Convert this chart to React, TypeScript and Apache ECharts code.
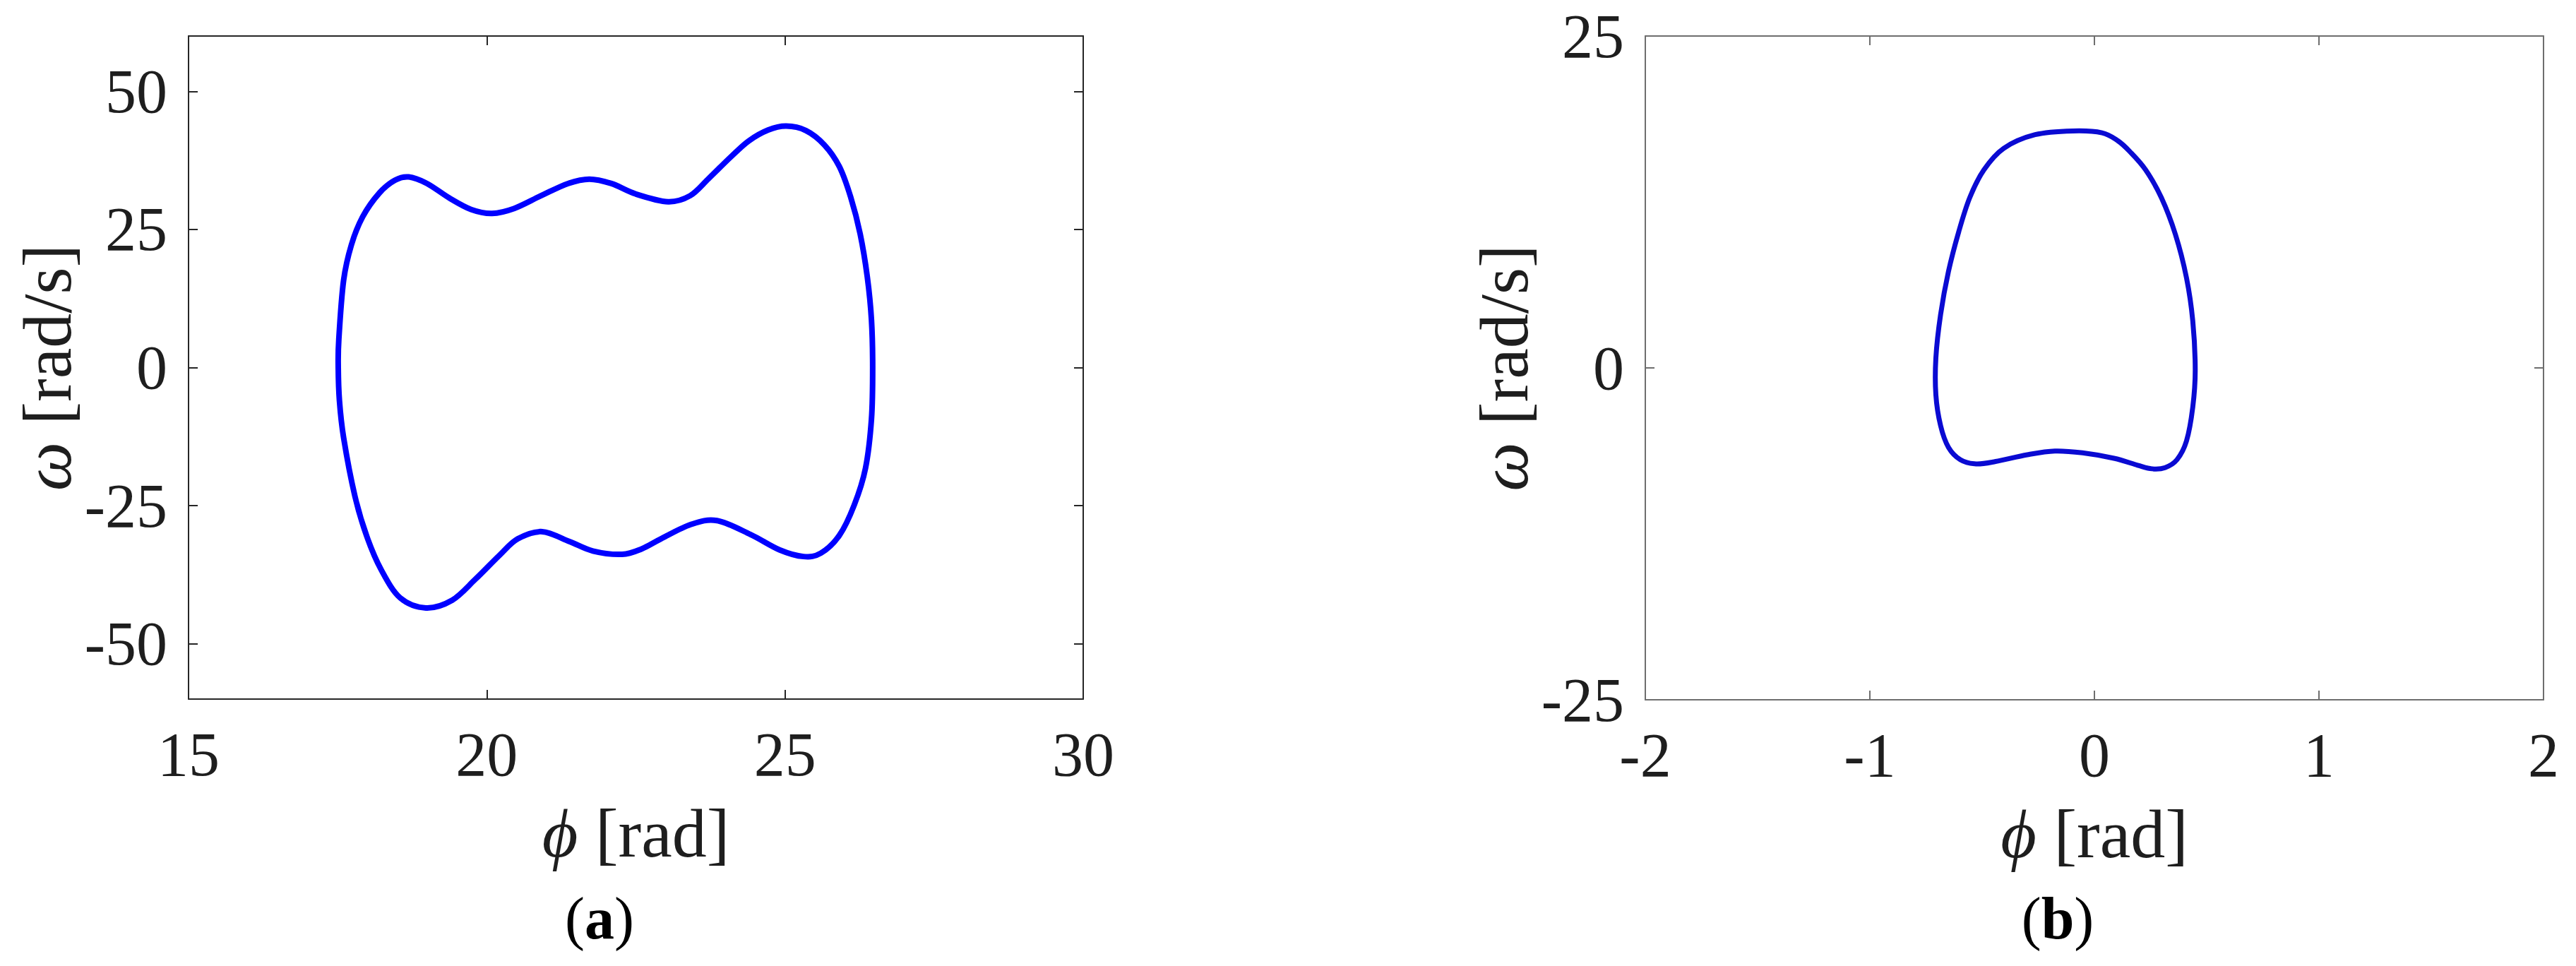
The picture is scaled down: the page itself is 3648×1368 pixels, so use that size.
import React, { useEffect, useRef } from "react";
import * as echarts from "echarts";

// ---- Data: panel (a) phase trajectory (closed loop) ----
const phiA = [
  17.51, 17.52, 17.6, 17.73, 17.92, 18.2, 18.46, 18.69, 19.0, 19.37, 19.74, 20.09,
  20.46, 20.91, 21.36, 21.72, 22.09, 22.5, 23.04, 23.41, 23.72, 24.08, 24.39, 24.72,
  25.02, 25.35, 25.66, 25.91, 26.1, 26.26, 26.38, 26.45, 26.47, 26.45, 26.35, 26.16,
  25.91, 25.6, 25.31, 24.91, 24.42, 23.86, 23.42, 22.92, 22.6, 22.27, 21.78, 21.39,
  20.93, 20.52, 20.21, 19.81, 19.42, 18.98, 18.55, 18.23, 17.99, 17.79, 17.6, 17.53,
  17.51,
];
const omegaA = [
  0, 5.2, 15.8, 22.2, 27.3, 31.6, 33.9, 34.5, 33.3, 30.7, 28.6, 27.9,
  28.8, 31.1, 33.3, 34.1, 33.3, 31.4, 30.0, 31.1, 34.2, 38.0, 41.0, 43.0,
  43.7, 42.9, 40.3, 36.4, 30.9, 24.2, 16.4, 8.6, 0, -9.3, -18.2, -24.9,
  -30.4, -33.6, -34.2, -33.0, -30.2, -27.7, -28.4, -31.0, -32.8, -33.8, -33.2, -31.5,
  -29.7, -31.0, -34.0, -38.3, -42.1, -43.5, -41.7, -36.6, -30.6, -23.3, -12.7, -6.0,
  0,
];

// ---- Data: panel (b) phase trajectory (closed loop) ----
const phiB = [
  -0.096, -0.264, -0.404, -0.492, -0.555, -0.604, -0.65, -0.685, -0.706, -0.706,
  -0.685, -0.65, -0.597, -0.527, -0.44, -0.299, -0.176, -0.053, 0.087, 0.192,
  0.256, 0.315, 0.368, 0.41, 0.438, 0.449, 0.438, 0.41, 0.361, 0.298,
  0.228, 0.157, 0.105, 0.034, -0.096,
];
const omegaB = [
  17.85, 17.57, 16.54, 14.92, 12.83, 10.27, 7.26, 4.01, 0.75, -2.03,
  -4.35, -5.98, -6.91, -7.23, -7.05, -6.54, -6.26, -6.4, -6.81, -7.33,
  -7.6, -7.51, -6.91, -5.51, -2.96, -0.17, 3.54, 6.79, 10.04, 12.83,
  14.92, 16.31, 17.1, 17.71, 17.85,
];

// ---- Axis ticks ----
const xTicksA = [15, 20, 25, 30];
const yTicksA = [-50, -25, 0, 25, 50];
const xTicksB = [-2, -1, 0, 1, 2];
const yTicksB = [-25, 0, 25];

const FONT = "'Liberation Serif', 'Times New Roman', serif";
const TEXT = "#1e1e1e";

function makeX(grid: number, min: number, max: number, ticks: number[], color: string) {
  const common = {
    gridIndex: grid,
    type: "value",
    min,
    max,
    interval: ticks[1] - ticks[0],
    splitLine: { show: false },
    axisLine: { show: true, onZero: false, lineStyle: { color, width: 2 } },
    axisTick: { show: true, inside: true, length: 13, lineStyle: { color, width: 2 } },
  };
  return [
    {
      ...common,
      position: "bottom",
      axisLabel: { show: true, fontFamily: FONT, fontSize: 88, color: TEXT, margin: 34 },
      name: "{i|ϕ} [rad]",
      nameLocation: "middle",
      nameGap: 141,
      nameTextStyle: {
        fontFamily: FONT,
        fontSize: 98,
        color: TEXT,
        rich: { i: { fontFamily: FONT, fontSize: 98, fontStyle: "italic", color: TEXT } },
      },
    },
    { ...common, position: "top", axisLabel: { show: false } },
  ];
}

function makeY(grid: number, min: number, max: number, ticks: number[], color: string) {
  const common = {
    gridIndex: grid,
    type: "value",
    min,
    max,
    splitLine: { show: false },
    axisLine: { show: true, onZero: false, lineStyle: { color, width: 2 } },
    axisTick: { show: true, inside: true, length: 13, customValues: ticks, lineStyle: { color, width: 2 } },
  };
  return [
    {
      ...common,
      position: "left",
      axisLabel: { show: true, customValues: ticks, fontFamily: FONT, fontSize: 88, color: TEXT, margin: 30 },
      name: "{i|ω} [rad/s]",
      nameLocation: "middle",
      nameRotate: 90,
      nameGap: 151,
      nameTextStyle: {
        fontFamily: FONT,
        fontSize: 98,
        color: TEXT,
        rich: { i: { fontFamily: FONT, fontSize: 98, fontStyle: "italic", color: TEXT } },
      },
    },
    { ...common, position: "right", axisLabel: { show: false } },
  ];
}

function panelLabel(letter: string, x: number) {
  return {
    type: "text",
    x,
    y: 1300,
    style: {
      text: `({b|${letter}})`,
      font: `84px ${FONT}`,
      fill: "#000",
      textAlign: "center",
      textVerticalAlign: "middle",
      rich: { b: { fontFamily: FONT, fontSize: 84, fontWeight: "bold", fill: "#000" } },
    },
  };
}

// Closed trajectory drawn through the axis scales (api.coord) as a smooth loop
function loopSeries(xs: number[], ys: number[], axisIdx: number, color: string, width: number) {
  return {
    type: "custom",
    coordinateSystem: "cartesian2d",
    xAxisIndex: axisIdx,
    yAxisIndex: axisIdx,
    data: [[xs[0], ys[0]]],
    encode: { x: 0, y: 1 },
    renderItem: (_params: any, api: any) => {
      const pts = xs.slice(0, xs.length - 1).map((x, i) => api.coord([x, ys[i]]));
      const n = pts.length;
      let d = `M${pts[0][0]},${pts[0][1]}`;
      for (let i = 0; i < n; i++) {
        const p0 = pts[(i - 1 + n) % n];
        const p1 = pts[i];
        const p2 = pts[(i + 1) % n];
        const p3 = pts[(i + 2) % n];
        const c1x = p1[0] + (p2[0] - p0[0]) / 6;
        const c1y = p1[1] + (p2[1] - p0[1]) / 6;
        const c2x = p2[0] - (p3[0] - p1[0]) / 6;
        const c2y = p2[1] - (p3[1] - p1[1]) / 6;
        d += ` C${c1x},${c1y} ${c2x},${c2y} ${p2[0]},${p2[1]}`;
      }
      d += " Z";
      return {
        type: "path",
        shape: { pathData: d },
        style: { fill: "none", stroke: color, lineWidth: width, lineJoin: "round" },
      };
    },
  };
}

export default function App() {
  const ref = useRef<HTMLDivElement>(null);
  useEffect(() => {
    if (!ref.current) return;
    const chart = echarts.init(ref.current, null, { renderer: "svg" });
    const option: any = {
      animation: false,
      backgroundColor: "#ffffff",
      grid: [
        { left: 267, top: 51, width: 1267, height: 939 },
        { left: 2330, top: 51, width: 1272, height: 940 },
      ],
      xAxis: [
        ...makeX(0, 15, 30, xTicksA, "#262626"),
        ...makeX(1, -2, 2, xTicksB, "#6e6e6e"),
      ],
      yAxis: [
        ...makeY(0, -60, 60, yTicksA, "#262626"),
        ...makeY(1, -25, 25, yTicksB, "#6e6e6e"),
      ],
      series: [
        loopSeries(phiA, omegaA, 0, "#0000ff", 8),
        loopSeries(phiB, omegaB, 2, "#0a0ad2", 7),
      ],
      graphic: [panelLabel("a", 849), panelLabel("b", 2914)],
    };
    chart.setOption(option);
    return () => chart.dispose();
  }, []);
  return (
    <div
      ref={ref}
      style={{ position: "fixed", left: 0, top: 0, width: 3648, height: 1368, background: "#fff" }}
    />
  );
}
